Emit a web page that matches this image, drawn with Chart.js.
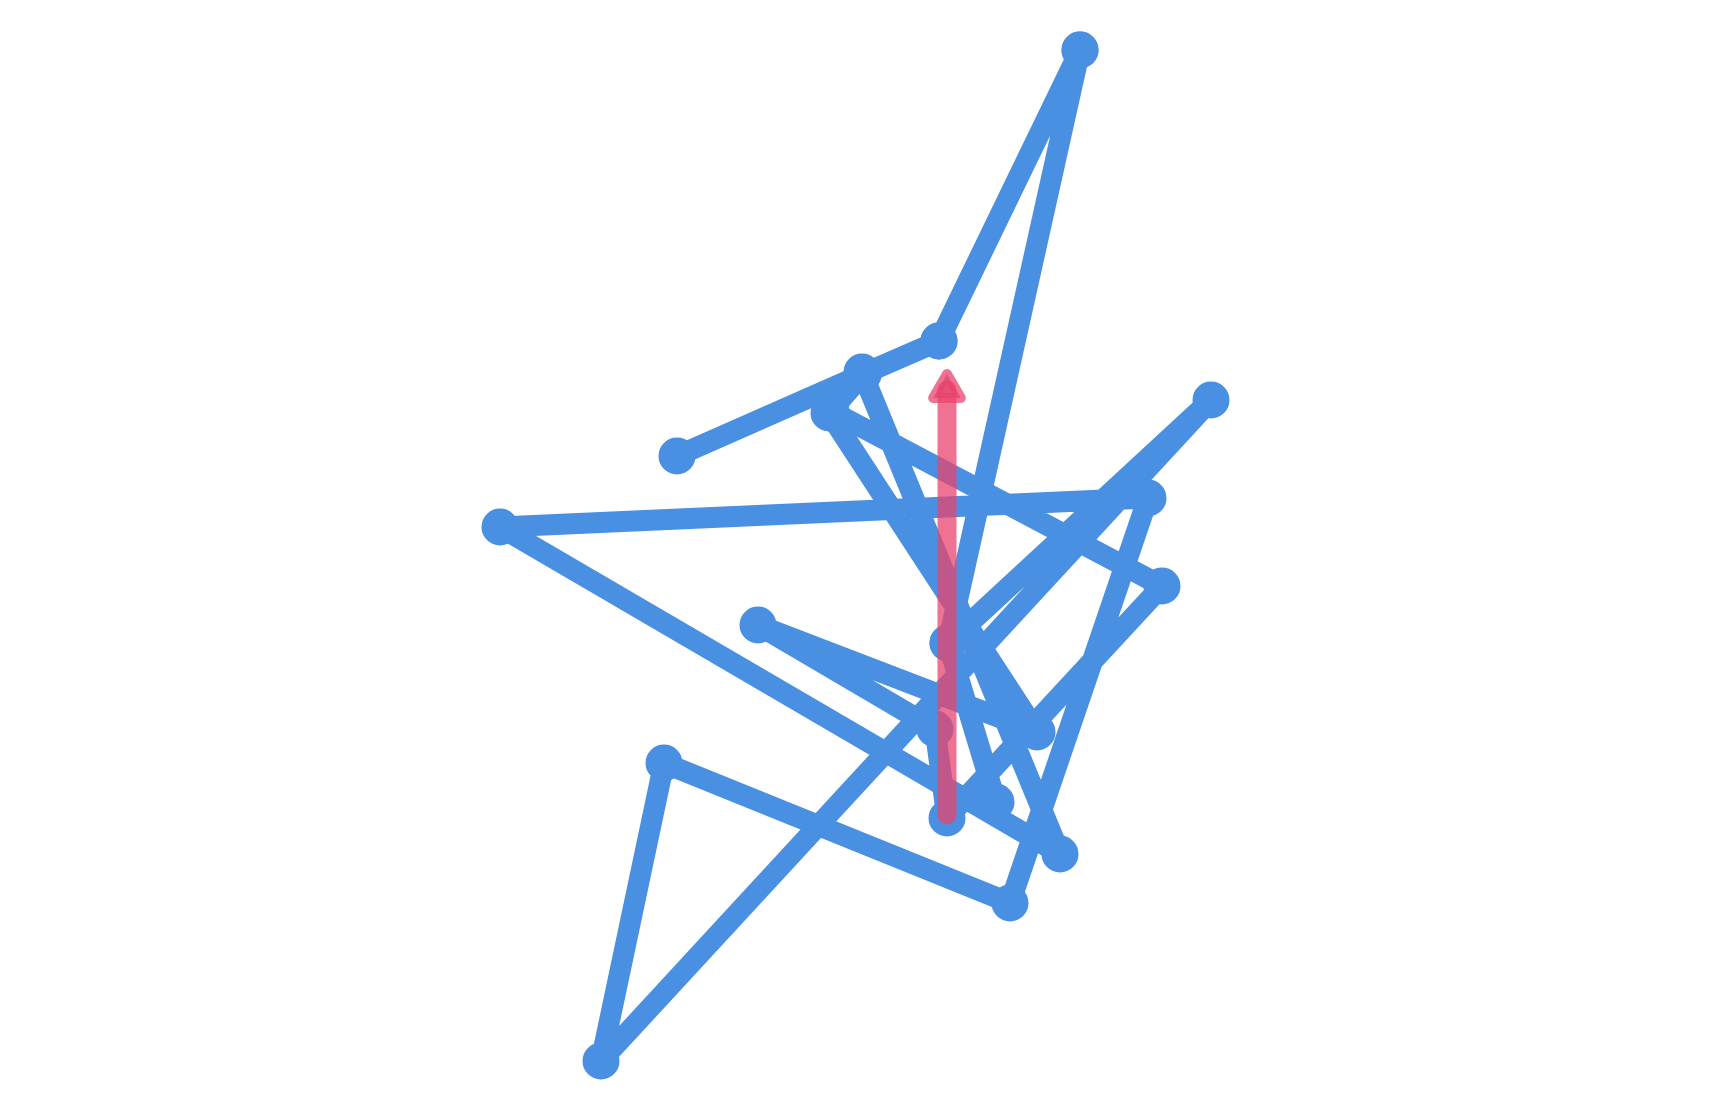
<!DOCTYPE html>
<html>
<head>
<meta charset="utf-8">
<script src="https://cdn.jsdelivr.net/npm/chart.js@4/dist/chart.umd.min.js"></script>
<style>
  html, body { margin: 0; padding: 0; background: #ffffff; }
  #wrap { width: 1710px; height: 1110px; position: relative; }
</style>
</head>
<body>
<div id="wrap"><canvas id="c"></canvas></div>
<script>
// Path of the walk (in order)
const walkX = [-3.56, 0.16, 1.68, 4.50, 1.86, 7.12, -5.08, -3.82, 3.10, 5.86, -7.10, 4.10, 0.14, -0.48, 6.14, 1.84, 1.60, -1.94, 3.64, -0.52, 0.16, 1.68, 4.50, 1.86, 2.82];
const walkY = [1.98, 3.62, 4.28, 10.10, -1.76, 3.10, -10.12, -4.16, -6.96, 1.14, 0.56, -5.98, 3.66, 2.88, -0.62, -5.26, -3.48, -1.40, -3.54, 2.84, 3.62, 4.28, 10.10, -1.76, -4.94];
// Arrow (start, end)
const arrowX = [1.84, 1.84];
const arrowY = [-5.20, 3.30];
// Axis ranges
const xRange = [-17.1, 17.1];
const yRange = [-11.1, 11.1];

const BLUE = '#4a90e2';
const PINK = 'rgba(232, 68, 110, 0.75)';

const walkData = walkX.map((x, i) => ({ x: x, y: walkY[i] }));
const arrowData = arrowX.map((x, i) => ({ x: x, y: arrowY[i] }));

const roundJoin = {
  id: 'roundJoin',
  beforeDatasetDraw(chart) {
    chart.ctx.lineJoin = 'round';
  }
};

new Chart(document.getElementById('c'), {
  type: 'scatter',
  data: {
    datasets: [
      {
        label: 'arrow',
        data: arrowData,
        showLine: true,
        order: 0,
        borderColor: PINK,
        backgroundColor: PINK,
        borderWidth: 19,
        borderCapStyle: 'round',
        pointStyle: 'triangle',
        pointRadius: [0, 16],
        pointHoverRadius: 0,
        pointBorderWidth: 10,
        pointBackgroundColor: PINK,
        pointBorderColor: PINK
      },
      {
        label: 'walk',
        data: walkData,
        showLine: true,
        order: 1,
        borderColor: BLUE,
        backgroundColor: BLUE,
        borderWidth: 21,
        borderJoinStyle: 'round',
        borderCapStyle: 'round',
        tension: 0,
        pointRadius: 16,
        pointHoverRadius: 16,
        pointBorderWidth: 5,
        pointBackgroundColor: BLUE,
        pointBorderColor: BLUE
      }
    ]
  },
  plugins: [roundJoin],
  options: {
    responsive: true,
    maintainAspectRatio: false,
    animation: false,
    layout: { padding: 0, autoPadding: false },
    plugins: { legend: { display: false }, tooltip: { enabled: false }, title: { display: false } },
    scales: {
      x: { type: 'linear', display: false, min: xRange[0], max: xRange[1] },
      y: { type: 'linear', display: false, min: yRange[0], max: yRange[1] }
    }
  }
});
</script>
</body>
</html>
